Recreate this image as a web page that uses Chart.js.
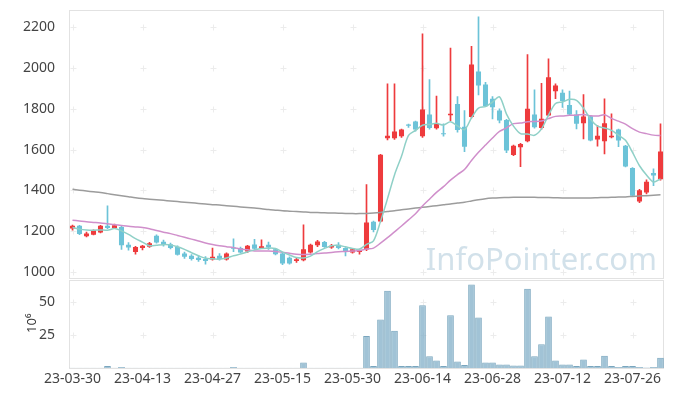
<!DOCTYPE html>
<html>
<head>
<meta charset="utf-8">
<script src="https://cdn.jsdelivr.net/npm/chart.js@4.4.0/dist/chart.umd.min.js"></script>
<style>
  html, body { margin: 0; padding: 0; background: #fff; }
  #wrap { width: 673px; height: 396px; }
</style>
</head>
<body>
<div id="wrap"><canvas id="chart" width="673" height="396"></canvas></div>
<script>
// 거래일
const labels = [
  '23-03-30','23-03-31','23-04-03','23-04-04','23-04-05','23-04-06','23-04-07','23-04-10','23-04-11','23-04-12',
  '23-04-13','23-04-14','23-04-17','23-04-18','23-04-19','23-04-20','23-04-21','23-04-24','23-04-25','23-04-26',
  '23-04-27','23-04-28','23-05-02','23-05-03','23-05-04','23-05-08','23-05-09','23-05-10','23-05-11','23-05-12',
  '23-05-15','23-05-16','23-05-17','23-05-18','23-05-19','23-05-22','23-05-23','23-05-24','23-05-25','23-05-26',
  '23-05-30','23-05-31','23-06-01','23-06-02','23-06-05','23-06-07','23-06-08','23-06-09','23-06-12','23-06-13',
  '23-06-14','23-06-15','23-06-16','23-06-19','23-06-20','23-06-21','23-06-22','23-06-23','23-06-26','23-06-27',
  '23-06-28','23-06-29','23-06-30','23-07-03','23-07-04','23-07-05','23-07-06','23-07-07','23-07-10','23-07-11',
  '23-07-12','23-07-13','23-07-14','23-07-17','23-07-18','23-07-19','23-07-20','23-07-21','23-07-24','23-07-25',
  '23-07-26','23-07-27','23-07-28','23-07-31','23-08-01'
];

const openPrice = [
  1213,1226,1175,1183,1193,1226,1215,1221,1133,1098,
  1117,1124,1177,1148,1136,1123,1090,1079,1070,1064,
  1061,1079,1061,1120,1117,1100,1135,1117,1133,1111,
  1090,1070,1054,1057,1095,1131,1147,1120,1133,1117,
  1095,1098,1110,1246,1247,1655,1655,1665,1723,1737,
  1665,1772,1705,1680,1768,1823,1712,1759,1983,1919,
  1849,1791,1745,1573,1611,1641,1772,1706,1767,1886,
  1878,1818,1772,1729,1763,1649,1641,1660,1698,1619,
  1510,1345,1390,1485,1455
];
const highPrice = [
  1230,1228,1196,1207,1228,1324,1235,1224,1144,1126,
  1131,1145,1182,1156,1141,1128,1098,1085,1079,1075,
  1117,1090,1094,1163,1122,1131,1160,1157,1147,1116,
  1095,1074,1072,1231,1137,1155,1150,1135,1144,1120,
  1113,1108,1428,1250,1577,1922,1922,1700,1725,1740,
  2167,1943,1862,1726,2097,1860,1791,2106,2250,1930,
  1860,1800,1748,1622,1630,2065,1893,1925,2045,1922,
  1893,1886,1791,1870,1766,1717,1849,1775,1700,1621,
  1512,1405,1452,1505,1726
];
const lowPrice = [
  1205,1183,1172,1181,1191,1212,1213,1111,1107,1087,
  1108,1120,1141,1127,1113,1082,1066,1058,1052,1038,
  1058,1058,1058,1100,1092,1094,1110,1114,1111,1083,
  1036,1038,1047,1054,1092,1124,1120,1115,1113,1079,
  1092,1087,1104,1196,1245,1647,1650,1660,1708,1690,
  1660,1700,1700,1665,1742,1685,1590,1755,1868,1810,
  1750,1730,1585,1570,1516,1638,1705,1700,1765,1849,
  1807,1770,1701,1652,1642,1616,1578,1657,1614,1515,
  1370,1340,1382,1423,1450
];
const closePrice = [
  1226,1186,1188,1205,1226,1216,1229,1131,1120,1123,
  1128,1141,1144,1134,1117,1084,1074,1063,1059,1054,
  1075,1063,1090,1114,1096,1128,1114,1126,1120,1087,
  1041,1042,1062,1111,1133,1149,1123,1128,1118,1098,
  1111,1106,1242,1206,1575,1668,1688,1698,1717,1698,
  1796,1706,1726,1675,1776,1696,1614,2017,1914,1812,
  1807,1742,1595,1619,1627,1800,1709,1751,1955,1914,
  1838,1772,1726,1762,1644,1668,1729,1668,1644,1517,
  1373,1401,1442,1473,1590
];

// 거래량 (백만주)
const volume = [
  0.1,0.1,0.1,0.1,0.1,1.5,0.1,0.8,0.1,0.1,
  0.1,0.1,0.1,0.1,0.1,0.1,0.1,0.1,0.1,0.1,
  0.1,0.1,0.1,0.8,0.1,0.1,0.1,0.1,0.1,0.1,
  0.1,0.1,0.1,4.1,0.1,0.1,0.1,0.1,0.1,0.1,
  0.1,0.1,24.2,1.5,36.6,58.2,28.1,1.5,1.5,1.5,
  47.4,8.8,5.7,1.5,39.7,4.9,2.3,62.9,38.1,4.1,
  4.1,2.6,2.6,1.8,1.8,59.8,8.8,18.0,38.9,5.7,
  2.6,2.6,1.5,6.4,1.5,1.5,9.3,1.5,0.8,1.5,
  1.5,0.8,0.3,0.8,7.7
];

// 이동평균
const ma5 = [
  1218,1210,1206,1205,1206.2,1204.2,1212.8,1201.4,1184.4,1163.8,
  1146.2,1128.6,1131.2,1134,1132.8,1124,1110.6,1094.4,1079.4,1066.8,
  1065,1062.8,1068.2,1079.2,1087.6,1098.2,1108.4,1115.6,1116.8,1115,
  1097.6,1083.2,1070.4,1068.6,1077.8,1099.4,1115.6,1128.8,1130.2,1123.2,
  1115.6,1112.2,1135,1152.6,1248,1359.4,1475.8,1567,1669.2,1693.8,
  1719.4,1723,1728.6,1720.2,1735.8,1715.8,1697.4,1755.6,1803.4,1810.6,
  1832.8,1858.4,1774,1715,1678,1676.6,1670,1701.2,1768.4,1825.8,
  1833.4,1846,1841,1802.4,1748.4,1714.4,1705.8,1694.2,1670.6,1645.2,
  1586.2,1520.6,1475.4,1441.2,1455.8
];
const ma20 = [
  1254,1250,1246,1243,1240,1236,1232,1228,1224,1221,
  1218,1212,1203,1195,1188,1179,1170,1161,1152,1142.4,
  1134.9,1128.7,1123.8,1119.3,1112.8,1108.4,1102.6,1102.4,1102.4,1100.6,
  1096.2,1091.3,1087.2,1086,1086.8,1090.1,1092.5,1095.8,1098.7,1100.9,
  1102.7,1104.9,1112.5,1117.1,1141,1168,1196.7,1225.3,1255.2,1285.7,
  1323.5,1356.7,1389.9,1418.1,1450.2,1477.6,1502.1,1546.6,1586.4,1622.1,
  1656.9,1688.7,1706.3,1727,1729.6,1736.2,1737.2,1739.9,1751.8,1762.6,
  1764.7,1768,1768,1772.3,1765.7,1764.3,1770.1,1752.6,1739.1,1724.4,
  1702.7,1685.6,1678,1670.7,1668.8
];
const ma120 = [
  1405,1401,1397,1393,1389,1384,1379,1374,1369,1364,
  1360,1357,1354,1351,1348,1345,1342,1339,1336,1333,
  1330,1328,1325,1322,1319,1316,1313,1310,1306,1303,
  1300,1298,1296,1294,1292,1291,1290,1289,1288,1287,
  1286,1286,1287,1289,1292,1296,1300,1305,1309,1313,
  1317,1321,1325,1329,1333,1338,1342,1348,1354,1359,
  1362,1364,1365,1366,1366,1366,1366,1365,1365,1364,
  1363,1363,1363,1363,1363,1364,1365,1366,1367,1368,
  1370,1372,1374,1376,1378
];

const priceTicks = [1000, 1200, 1400, 1600, 1800, 2000, 2200];
const volTicks = [25, 50];

const UP = '#ee3b3d';
const DOWN = '#6cc3d8';
const candleColor = closePrice.map((c, i) => c >= openPrice[i] ? UP : DOWN);
const FONT = '"Noto Sans", "DejaVu Sans", sans-serif';

// 배경 장식: 워터마크, 격자 십자, 테두리
const decor = {
  id: 'decor',
  beforeDatasetsDraw(chart) {
    const { ctx, chartArea: a, scales } = chart;
    const x = scales.x, y = scales.y, v = scales.v;
    ctx.save();
    ctx.font = '31px ' + FONT;
    ctx.fillStyle = 'rgba(180,205,220,0.6)';
    ctx.textAlign = 'right';
    ctx.textBaseline = 'alphabetic';
    ctx.fillText('InfoPointer.com', 657, 270);

    ctx.strokeStyle = '#ececec';
    ctx.lineWidth = 1;
    const rows = priceTicks.map(t => y.getPixelForValue(t))
      .concat(volTicks.map(t => v.getPixelForValue(t)));
    for (let i = 0; i < labels.length; i += 10) {
      const px = Math.round(x.getPixelForValue(i)) + 0.5;
      rows.forEach(r => {
        const py = Math.round(r) + 0.5;
        ctx.beginPath();
        ctx.moveTo(px - 3, py); ctx.lineTo(px + 3, py);
        ctx.moveTo(px, py - 3); ctx.lineTo(px, py + 3);
        ctx.stroke();
      });
    }

    ctx.strokeStyle = '#e2e2e2';
    ctx.strokeRect(a.left + 0.5, Math.round(y.top) + 0.5, a.width - 1, Math.round(y.height) - 1);
    ctx.strokeRect(a.left + 0.5, Math.round(v.top) + 1.5, a.width - 1, Math.round(v.height) - 2);
    ctx.restore();
  }
};

new Chart(document.getElementById('chart'), {
  data: {
    labels: labels,
    datasets: [
      {
        type: 'line', label: 'MA5', data: ma5, yAxisID: 'y', order: 0,
        borderColor: '#8fd0c7', borderWidth: 1.5, pointRadius: 0, tension: 0.3
      },
      {
        type: 'line', label: 'MA20', data: ma20, yAxisID: 'y', order: 0,
        borderColor: '#d08fcb', borderWidth: 1.5, pointRadius: 0, tension: 0.3
      },
      {
        type: 'line', label: 'MA120', data: ma120, yAxisID: 'y', order: 0,
        borderColor: '#9c9c9c', borderWidth: 1.5, pointRadius: 0, tension: 0.3
      },
      {
        type: 'bar', label: 'body', yAxisID: 'y', order: 1, grouped: false,
        data: openPrice.map((o, i) => [o, closePrice[i]]),
        backgroundColor: candleColor,
        barPercentage: 0.72, categoryPercentage: 1
      },
      {
        type: 'bar', label: 'wick', yAxisID: 'y', order: 2, grouped: false,
        data: lowPrice.map((l, i) => [l, highPrice[i]]),
        backgroundColor: candleColor,
        barThickness: 1
      },
      {
        type: 'bar', label: 'volume', yAxisID: 'v', order: 3, grouped: false,
        data: volume,
        backgroundColor: 'rgba(135,178,202,0.78)',
        borderColor: '#7aa6be', borderWidth: 1,
        barPercentage: 0.95, categoryPercentage: 1
      }
    ]
  },
  options: {
    responsive: false,
    animation: false,
    layout: { padding: { top: 10, right: 9, left: 0, bottom: 0 } },
    plugins: { legend: { display: false }, tooltip: { enabled: false } },
    scales: {
      x: {
        offset: true,
        grid: { display: false, drawTicks: false },
        border: { display: false },
        ticks: {
          autoSkip: false, maxRotation: 0, padding: 3,
          color: '#444', font: { family: FONT, size: 14 },
          callback: (val, i) => i % 10 === 0 ? labels[i] : ''
        },
        afterFit: s => { s.height = 28; }
      },
      v: {
        position: 'left', stack: 'panel', stackWeight: 1,
        min: 0, max: 67.5,
        grid: { display: false },
        border: { display: false },
        title: { display: true, text: '10⁶', color: '#333', font: { family: FONT, size: 13 }, padding: { top: 24, bottom: 0 } },
        ticks: { color: '#444', padding: 6, font: { family: FONT, size: 14 }, callback: val => String(val) },
        afterBuildTicks: s => { s.ticks = volTicks.map(t => ({ value: t })); },
        afterFit: s => { s.width = 69; s.paddingTop = 0; s.paddingBottom = 0; }
      },
      y: {
        position: 'left', stack: 'panel', stackWeight: 3,
        min: 968, max: 2284,
        grid: { display: false },
        border: { display: false },
        ticks: { color: '#444', padding: 6, font: { family: FONT, size: 14 }, callback: val => String(val) },
        afterBuildTicks: s => { s.ticks = priceTicks.map(t => ({ value: t })); },
        afterFit: s => { s.width = 69; s.paddingTop = 0; s.paddingBottom = 0; }
      }
    }
  },
  plugins: [decor]
});
</script>
</body>
</html>
